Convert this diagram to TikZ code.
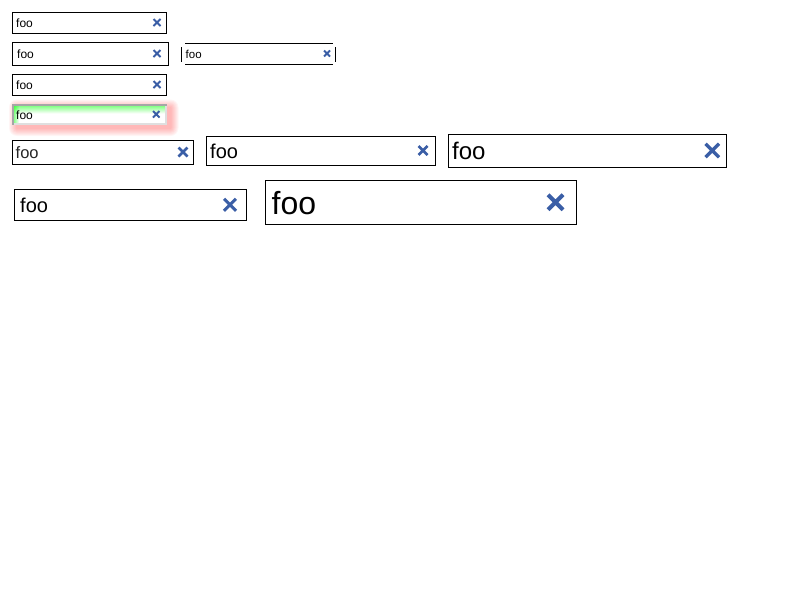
\documentclass[tikz,border=0pt]{standalone}
\usepackage{fontspec}
\setmainfont{Liberation Sans}
\usetikzlibrary{positioning,shapes.misc}
\definecolor{xblue}{RGB}{58,94,166}

\begin{document}
\begin{tikzpicture}[
		x=1pt, y=-1pt,
		field/.style 2 args={draw, line width=1pt, inner sep=0pt, outer sep=0pt, anchor=north west,
				minimum width=#1, minimum height=#2},
		txt/.style={inner sep=0pt, yshift=-0.8pt, font=\fontsize{#1}{#1}\selectfont},
		clr/.style={cross out, draw=xblue, inner sep=0pt, outer sep=0pt, minimum size=#1},
	]
	\path[use as bounding box] (0,0) rectangle (800,600);
	% small fields
	\node[field={154}{21}] (f1) at (12,12) {};
	\node[txt=12, right=4pt of f1.west] (t1) {foo};
	\node[clr=7, line width=2pt, left=5.5pt of f1.east] (c1) {};
	\node[field={156}{23}] (f2) at (12,42) {};
	\node[txt=12, right=5pt of f2.west] (t2) {foo};
	\node[clr=7, line width=2pt, left=7.5pt of f2.east] (c2) {};
	\node[field={154}{21}] (f3) at (12,74) {};
	\node[txt=12, right=4pt of f3.west] (t3) {foo};
	\node[clr=7, line width=2pt, left=5.5pt of f3.east] (c3) {};
	% open field
	\node[inner sep=0pt, outer sep=0pt, anchor=north west, minimum width=148, minimum height=21] (od) at (185,43) {};
	\draw[line width=1pt] (od.north west) -- (od.north east) (od.south west) -- (od.south east);
	\draw[line width=1pt] ([shift={(-4,4)}]od.north west) -- ([shift={(-4,-2)}]od.south west)
	([shift={(2.5,4)}]od.north east) -- ([shift={(2.5,-2)}]od.south east);
	\node[txt=11.5, right=0.5pt of od.west] (t0) {foo};
	\node[clr=6, line width=2pt, left=3pt of od.east] (c0) {};
	% focused field
	\node[inner sep=0pt, outer sep=0pt, anchor=north west, minimum width=154.5, minimum height=21.5] (f4) at (12,103.5) {};
	\foreach \r in {1,...,8}
	\fill[red, opacity=0.04, rounded corners=\r pt] ([shift={(5-\r,4-\r)}]f4.north west) rectangle ([shift={(4+\r,3+\r)}]f4.south east);
	\fill[white] (f4.north west) rectangle (f4.south east);
	\shade[top color=green!50, bottom color=white] ([shift={(0,2)}]f4.north west) rectangle ([shift={(0,10)}]f4.north east);
	\foreach \i in {0,...,4}
	\fill[green, opacity={0.45-0.09*\i}] ([shift={(2+\i,2)}]f4.north west) rectangle ([shift={(3+\i,0)}]f4.south west);
	\draw[gray!70, line width=2pt] ([shift={(1,0)}]f4.south west) -- ([shift={(1,1)}]f4.north west) -- ([shift={(0,1)}]f4.north east);
	\draw[gray!25, line width=2pt] ([shift={(2,-1)}]f4.south west) -- ([shift={(-1,-1)}]f4.south east) -- ([shift={(-1,2)}]f4.north east);
	\node[txt=12, right=4pt of f4.west] (t4) {foo};
	\node[clr=6.5, line width=2pt, left=7pt of f4.east] (c4) {};
	% larger fields
	\node[field={180.5}{24}] (f5) at (12.5,140) {};
	\node[txt=16.5, text=black!85, right=3pt of f5.west] (t5) {foo};
	\node[clr=9, line width=2.5pt, left=5.5pt of f5.east] (c5) {};
	\node[field={228.5}{29}] (f6) at (206.5,136) {};
	\node[txt=20, right=3.5pt of f6.west] (t6) {foo};
	\node[clr=9, line width=2.5pt, left=7.5pt of f6.east] (c6) {};
	\node[field={278.5}{33}] (f7) at (448,134) {};
	\node[txt=24, right=4pt of f7.west] (t7) {foo};
	\node[clr=13.5, line width=3.5pt, left=7.5pt of f7.east] (c7) {};
	\node[field={232.5}{31.5}] (f8) at (14,189) {};
	\node[txt=20, right=6pt of f8.west] (t8) {foo};
	\node[clr=12, line width=3pt, left=10.5pt of f8.east] (c8) {};
	\node[field={311.5}{43.5}] (f9) at (265,180.5) {};
	\node[txt=32, right=6.5pt of f9.west] (t9) {foo};
	\node[clr=15, line width=4pt, left=13.5pt of f9.east] (c9) {};
\end{tikzpicture}
\end{document}
